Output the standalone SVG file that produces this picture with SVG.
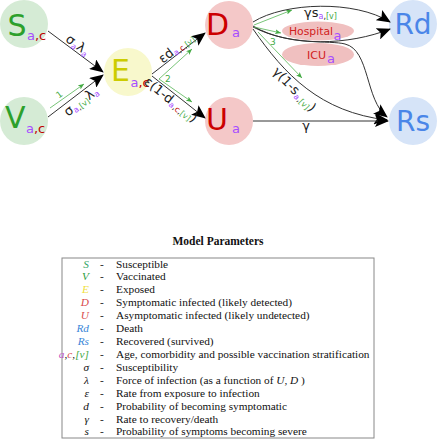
<svg xmlns="http://www.w3.org/2000/svg" width="437" height="440" viewBox="0 0 437 440">
<style>
.big{font-family:"DejaVu Sans",sans-serif;font-size:30px}
.big2{font-family:"DejaVu Sans",sans-serif;font-size:28px;fill:#4a86e8}
.sub{font-family:"DejaVu Sans",sans-serif;font-size:13px}
.lbl{font-family:"DejaVu Sans",sans-serif;font-size:13px;fill:#222}
.s{font-size:8px}
.gl{font-family:"DejaVu Sans",sans-serif;font-size:9px;fill:#44aa44}
.pu{fill:#a64dff}
.rd{fill:#c00000}
.gr{fill:#44aa44}
.edge{fill:none;stroke:#333;stroke-width:1;marker-end:url(#ah)}
.gedge{fill:none;stroke:#55b555;stroke-width:0.8;marker-end:url(#gh)}
.tb{font-family:"Liberation Serif",serif;font-size:11.3px;fill:#111}
.sym{font-family:"Liberation Serif",serif;font-size:11.3px;font-style:italic;text-anchor:end}
</style>
<defs>
<marker id="ah" markerUnits="userSpaceOnUse" markerWidth="14" markerHeight="12" refX="13" refY="6" orient="auto" viewBox="0 0 14 12">
<path d="M0,0 L14,6 L0,12 L3,6 z" fill="#000"/>
</marker>
<marker id="gh" markerUnits="userSpaceOnUse" markerWidth="6" markerHeight="5" refX="6" refY="2.5" orient="auto" viewBox="0 0 6 5">
<path d="M0,0 L6,2.5 L0,5 L1.5,2.5 z" fill="#44aa44"/>
</marker>
</defs>
<rect width="437" height="440" fill="#fff"/>

<g id="node-S"><circle cx="24" cy="24" r="24" fill="#d5ebd5"/><text x="7.5" y="36" class="big" fill="#2ca02c">S</text><text x="27" y="40" class="sub"><tspan class="pu">a</tspan><tspan class="rd">,c</tspan></text></g>
<g id="node-V"><circle cx="24" cy="121" r="24" fill="#d5ebd5"/><text x="5" y="128" class="big" fill="#2ca02c">V</text><text x="26" y="133" class="sub"><tspan class="pu">a</tspan><tspan class="rd">,c</tspan></text></g>
<g id="node-E"><circle cx="128" cy="72" r="24" fill="#f8f8cc"/><text x="111" y="81" class="big" fill="#cccc00">E</text><text x="130.5" y="87" class="sub"><tspan class="pu">a</tspan><tspan class="rd">,c</tspan></text></g>
<g id="node-D"><circle cx="229" cy="25" r="24" fill="#f4c8c8"/><text x="206" y="35" class="big" fill="#cc0000">D</text><text x="232" y="37" class="sub pu">a</text></g>
<g id="node-U"><circle cx="229" cy="121" r="24" fill="#f4c8c8"/><text x="206" y="130" class="big" fill="#cc0000">U</text><text x="232" y="133" class="sub pu">a</text></g>
<g id="node-Rd"><circle cx="413" cy="24" r="24" fill="#d6e4f8"/><text x="413" y="34" class="big2" text-anchor="middle">Rd</text></g>
<g id="node-Rs"><circle cx="413" cy="121" r="24" fill="#d6e4f8"/><text x="413" y="131" class="big2" text-anchor="middle">Rs</text></g>
<g id="node-Hospital"><ellipse cx="318" cy="31" rx="36" ry="9.5" fill="#f0c0c0"/><text x="289" y="35" font-family="DejaVu Sans,sans-serif" font-size="10.8" fill="#d02020">Hospital</text><text x="333.5" y="40" class="sub pu">a</text></g>
<g id="node-ICU"><ellipse cx="318" cy="54.5" rx="36" ry="11.5" fill="#f0c0c0"/><text x="307" y="58.5" font-family="DejaVu Sans,sans-serif" font-size="11" fill="#d02020">ICU</text><text x="327" y="63" class="sub pu">a</text></g>

<g id="connectors">
<path class="edge" d="M48,31 L103,72"/>
<path class="edge" d="M48,117 L103,75"/>
<path class="edge" d="M152,74 L205,33"/>
<path class="edge" d="M152,76 L205,118"/>
<path class="edge" d="M253,22 C285,2 355,0 390,22"/>
<path class="edge" d="M253,26 C290,48 350,45 390,29"/>
<path class="edge" d="M253,27 C290,46 330,40 345,44 C370,50 365,100 387,117"/>
<path class="edge" d="M253,29 C285,75 320,112 387,120"/>
<path class="edge" d="M253,121 L388,121"/>
<path class="gedge" d="M50,108 L84,84"/>
<path class="gedge" d="M159,79 L192,49"/>
<path class="gedge" d="M159,79 L192,102"/>
<path class="gedge" d="M254,25 L292,10"/>
<path class="gedge" d="M254,27 L281,33"/>
<path class="gedge" d="M258,32 L302,78"/>
<text class="gl" transform="translate(61,97) rotate(-36)" text-anchor="middle">1</text>
<text class="gl" x="165" y="82">2</text>
<text class="gl" x="270" y="45">3</text>
<text class="lbl" transform="translate(74,50) rotate(36.7)" y="-2" text-anchor="middle">σ<tspan class="s pu" dy="2">a</tspan><tspan dy="-2">λ</tspan><tspan class="s pu" dy="2">a</tspan></text>
<text class="lbl" transform="translate(77,96) rotate(-37.4)" y="11" text-anchor="middle">σ<tspan class="s" dy="2"><tspan class="pu">a</tspan>,<tspan class="gr">[v]</tspan></tspan><tspan dy="-2">λ</tspan><tspan class="s pu" dy="2">a</tspan></text>
<text class="lbl" transform="translate(180,53) rotate(-37.7)" y="-2" text-anchor="middle">εd<tspan class="s" dy="2"><tspan class="pu">a</tspan>,<tspan class="rd">c</tspan>,<tspan class="gr">[v]</tspan></tspan></text>
<text class="lbl" transform="translate(175,94.5) rotate(38.4)" y="11" text-anchor="middle">ε(1-d<tspan class="s" dy="2"><tspan class="pu">a</tspan>,<tspan class="rd">c</tspan>,<tspan class="gr">[v]</tspan></tspan><tspan dy="-2">)</tspan></text>
<text class="lbl" x="304" y="17">γs<tspan class="s" dy="2"><tspan class="pu">a</tspan>,<tspan class="gr">[v]</tspan></tspan></text>
<text class="lbl" transform="translate(300,84) rotate(46)" y="12" text-anchor="middle">γ(1-s<tspan class="s" dy="2"><tspan class="pu">a</tspan>,<tspan class="gr">[v]</tspan></tspan><tspan dy="-2">)</tspan></text>
<text class="lbl" x="306" y="130" text-anchor="middle">γ</text>
</g>

<g id="legend">
<text x="218" y="245" font-family="Liberation Serif,serif" font-size="11.5" font-weight="bold" text-anchor="middle" fill="#111">Model Parameters</text>
<rect x="62" y="258" width="312" height="180" fill="none" stroke="#888" stroke-width="1"/>
<g class="tb">
<text class="sym" x="89" y="267.5" fill="#3aa86a">S</text>
<text class="sym" x="89" y="280.4" fill="#2e9e3e">V</text>
<text class="sym" x="89" y="293.3" fill="#f0e040">E</text>
<text class="sym" x="89" y="306.3" fill="#d94a4a">D</text>
<text class="sym" x="89" y="319.2" fill="#d94a4a">U</text>
<text class="sym" x="89" y="332.1" fill="#3a86d8">Rd</text>
<text class="sym" x="89" y="345" fill="#3a86d8">Rs</text>
<text class="sym" x="89" y="357.9" font-size="7"><tspan fill="#c050c0">a</tspan>,<tspan fill="#d94a4a">c</tspan>,<tspan fill="#44aa44">[v]</tspan></text>
<text class="sym" x="89" y="370.9" fill="#111">σ</text>
<text class="sym" x="89" y="383.8" fill="#111">λ</text>
<text class="sym" x="89" y="396.7" fill="#111">ε</text>
<text class="sym" x="89" y="409.6" fill="#111">d</text>
<text class="sym" x="89" y="422.5" fill="#111">γ</text>
<text class="sym" x="89" y="435.4" fill="#111">s</text>
</g>
<g class="tb" text-anchor="middle">
<text x="102" y="267.5">-</text><text x="102" y="280.4">-</text><text x="102" y="293.3">-</text><text x="102" y="306.3">-</text><text x="102" y="319.2">-</text><text x="102" y="332.1">-</text><text x="102" y="345">-</text><text x="102" y="357.9">-</text><text x="102" y="370.9">-</text><text x="102" y="383.8">-</text><text x="102" y="396.7">-</text><text x="102" y="409.6">-</text><text x="102" y="422.5">-</text><text x="102" y="435.4">-</text>
</g>
<g class="tb">
<text x="116" y="267.5">Susceptible</text>
<text x="116" y="280.4">Vaccinated</text>
<text x="116" y="293.3">Exposed</text>
<text x="116" y="306.3">Symptomatic infected (likely detected)</text>
<text x="116" y="319.2">Asymptomatic infected (likely undetected)</text>
<text x="116" y="332.1">Death</text>
<text x="116" y="345">Recovered (survived)</text>
<text x="116" y="357.9">Age, comorbidity and possible vaccination stratification</text>
<text x="116" y="370.9">Susceptibility</text>
<text x="116" y="383.8">Force of infection (as a function of <tspan font-style="italic">U, D</tspan> )</text>
<text x="116" y="396.7">Rate from exposure to infection</text>
<text x="116" y="409.6">Probability of becoming symptomatic</text>
<text x="116" y="422.5">Rate to recovery/death</text>
<text x="116" y="435.4">Probability of symptoms becoming severe</text>
</g>
</g>
</svg>
